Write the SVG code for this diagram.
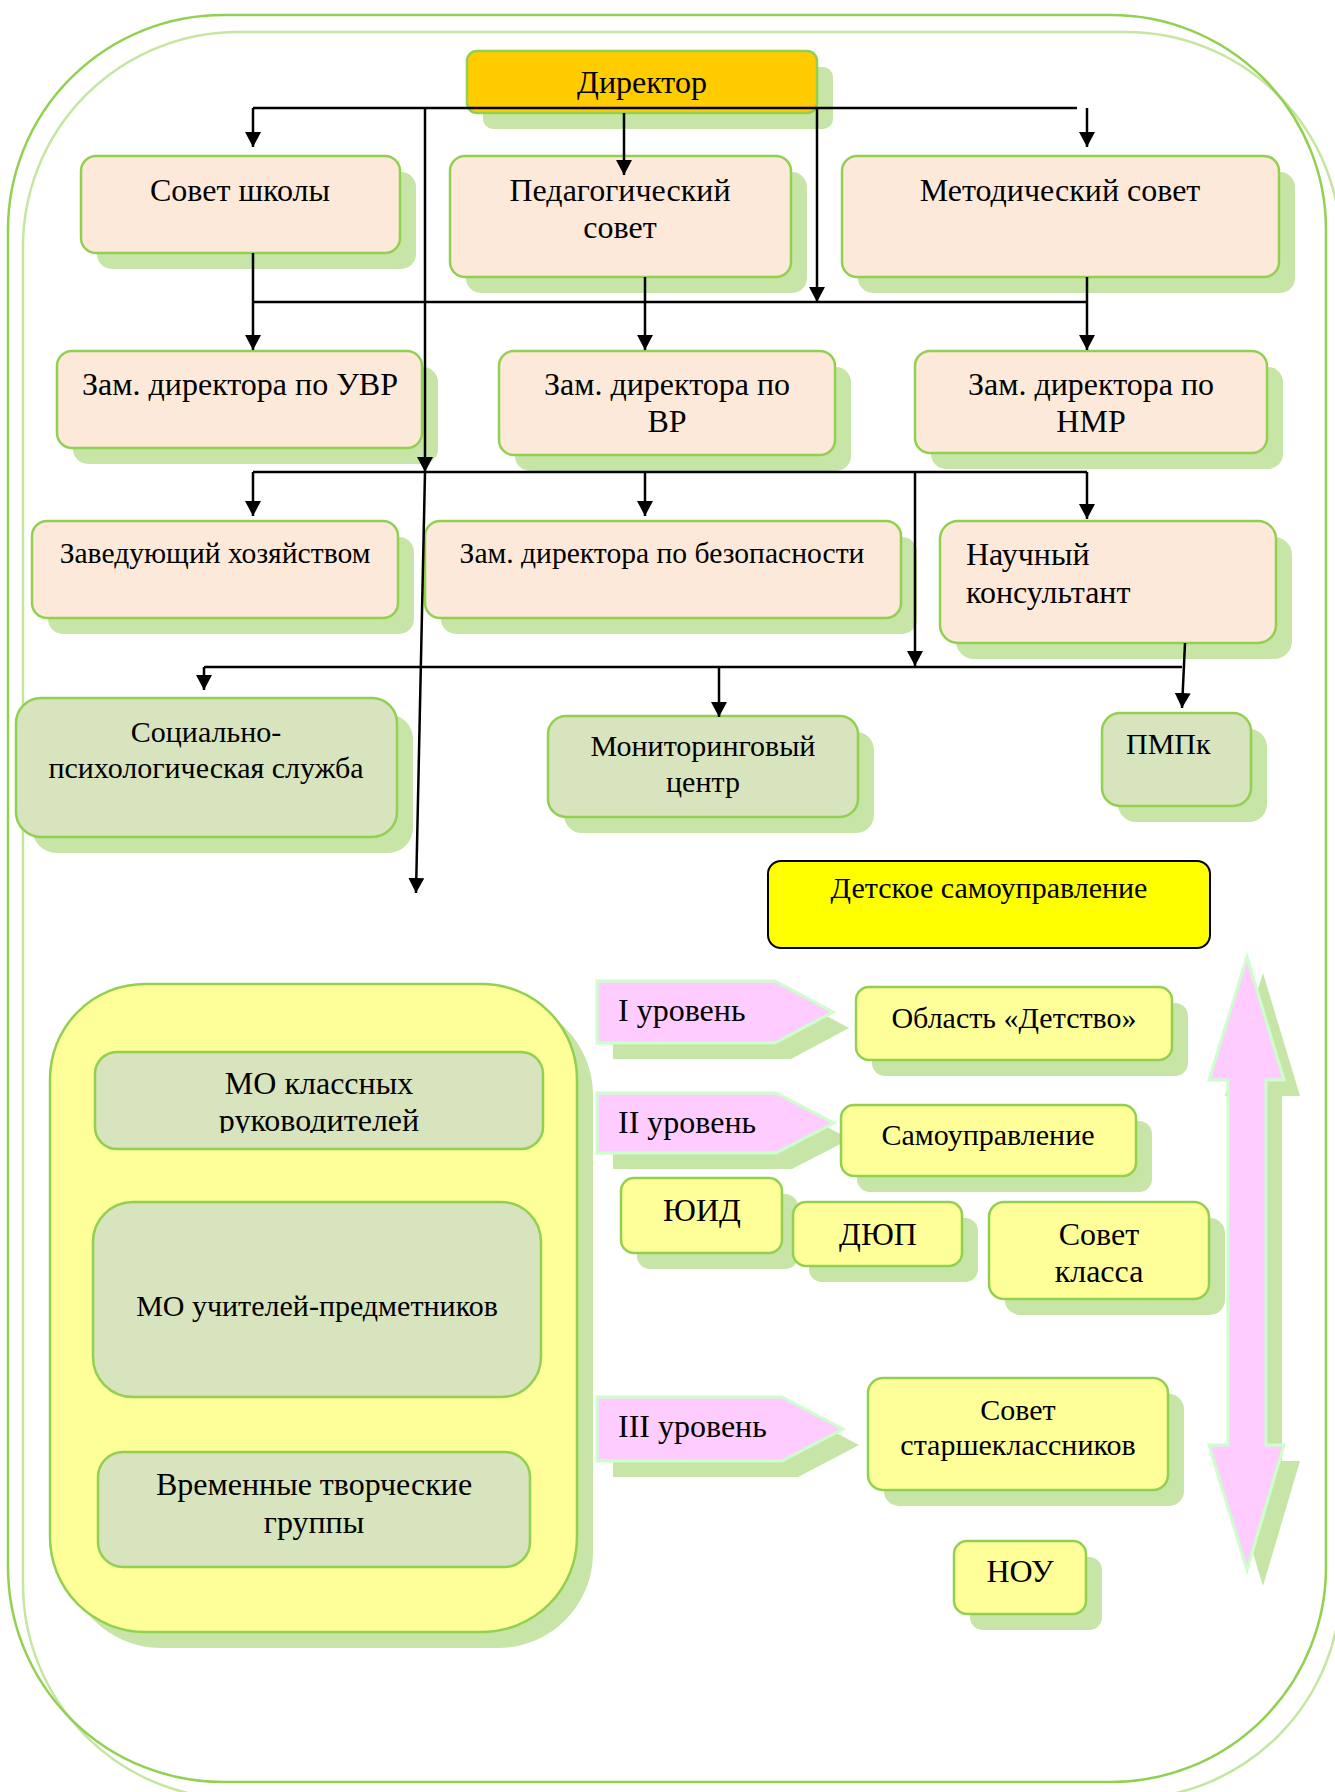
<svg xmlns="http://www.w3.org/2000/svg" width="1335" height="1792" viewBox="0 0 1335 1792">
<defs>
<marker id="ah" markerUnits="userSpaceOnUse" markerWidth="16" markerHeight="16" refX="15" refY="8" orient="auto"><path d="M0,0 L15,8 L0,16 z" fill="#000"/></marker>
<clipPath id="clipMo"><rect x="90" y="1040" width="460" height="93"/></clipPath>
</defs>
<style>
text{font-family:"Liberation Serif","Times New Roman",serif;fill:#000;}
.c{text-anchor:middle;}
.sh{fill:#c7e5a7;}
.pe{fill:#fde9d9;stroke:#92d050;stroke-width:2.5;}
.gr{fill:#d7e4bd;stroke:#92d050;stroke-width:2.5;}
.ye{fill:#ffff99;stroke:#92d050;stroke-width:2.5;}
.pk{fill:#ffccff;stroke:#ccffcc;stroke-width:3;}
.ln{fill:none;stroke:#000;stroke-width:2.5;}
.f32{font-size:32px;}
.f30{font-size:30px;}
.f295{font-size:29.6px;}
</style>
<rect width="1335" height="1792" fill="#fff"/>
<g id="frame">
<rect x="23" y="32" width="1318" height="1767" rx="215" ry="215" fill="none" stroke="#c4e6a0" stroke-width="2.5"/>
<rect x="8" y="15" width="1318" height="1767" rx="215" ry="215" fill="none" stroke="#92d050" stroke-width="2.5"/>
</g>

<g id="director">
<rect class="sh" x="483" y="67" width="350" height="62" rx="10"/>
<rect x="467" y="51" width="350" height="62" rx="10" fill="#ffcc00" stroke="#92d050" stroke-width="2.5"/>
<text class="c f32" x="642" y="93">Директор</text>
</g>
<g id="sovet-shkoly">
<rect class="sh" x="97" y="172" width="319" height="97" rx="15"/>
<rect class="pe" x="81" y="156" width="319" height="97" rx="15"/>
<text class="c f32" x="240" y="201">Совет школы</text>
</g>
<g id="ped-sovet">
<rect class="sh" x="466" y="172" width="341" height="121" rx="15"/>
<rect class="pe" x="450" y="156" width="341" height="121" rx="15"/>
<text class="c f32" x="620" y="201">Педагогический</text>
<text class="c f32" x="620" y="238">совет</text>
</g>
<g id="metod-sovet">
<rect class="sh" x="858" y="172" width="437" height="121" rx="15"/>
<rect class="pe" x="842" y="156" width="437" height="121" rx="15"/>
<text class="c f32" x="1060" y="201">Методический совет</text>
</g>
<g id="zam-uvr">
<rect class="sh" x="73" y="367" width="365" height="97" rx="15"/>
<rect class="pe" x="57" y="351" width="365" height="97" rx="15"/>
<text class="c f32" x="240" y="395">Зам. директора по УВР</text>
</g>
<g id="zam-vr">
<rect class="sh" x="515" y="367" width="336" height="104" rx="15"/>
<rect class="pe" x="499" y="351" width="336" height="104" rx="15"/>
<text class="c f32" x="667" y="395">Зам. директора по</text>
<text class="c f32" x="667" y="432">ВР</text>
</g>
<g id="zam-nmr">
<rect class="sh" x="931" y="367" width="352" height="102" rx="15"/>
<rect class="pe" x="915" y="351" width="352" height="102" rx="15"/>
<text class="c f32" x="1091" y="395">Зам. директора по</text>
<text class="c f32" x="1091" y="432">НМР</text>
</g>
<g id="zavhoz">
<rect class="sh" x="48" y="537" width="366" height="97" rx="15"/>
<rect class="pe" x="32" y="521" width="366" height="97" rx="15"/>
<text class="c f295" x="215" y="563">Заведующий хозяйством</text>
</g>
<g id="zam-bez">
<rect class="sh" x="441" y="537" width="476" height="97" rx="15"/>
<rect class="pe" x="425" y="521" width="476" height="97" rx="15"/>
<text class="c f295" x="662" y="563">Зам. директора по безопасности</text>
</g>
<g id="nauch">
<rect class="sh" x="956" y="537" width="336" height="122" rx="18"/>
<rect class="pe" x="940" y="521" width="336" height="122" rx="18"/>
<text class="f32" x="966" y="565">Научный</text>
<text class="f32" x="966" y="603">консультант</text>
</g>
<g id="socpsih">
<rect class="sh" x="32" y="714" width="381" height="139" rx="25"/>
<rect class="gr" x="16" y="698" width="381" height="139" rx="25"/>
<text class="c f30" x="206" y="742">Социально-</text>
<text class="c f30" x="206" y="778">психологическая служба</text>
</g>
<g id="monitor">
<rect class="sh" x="564" y="732" width="310" height="101" rx="18"/>
<rect class="gr" x="548" y="716" width="310" height="101" rx="18"/>
<text class="c f30" x="703" y="756">Мониторинговый</text>
<text class="c f30" x="703" y="792">центр</text>
</g>
<g id="pmpk">
<rect class="sh" x="1118" y="729" width="149" height="93" rx="18"/>
<rect class="gr" x="1102" y="713" width="149" height="93" rx="18"/>
<text class="f30" x="1126" y="754">ПМПк</text>
</g>
<g id="detskoe">
<rect x="768" y="861" width="442" height="87" rx="13" fill="#ffff00" stroke="#000" stroke-width="2"/>
<text class="c f30" x="989" y="898">Детское самоуправление</text>
</g>

<g id="mo-container">
<rect class="sh" x="66" y="1000" width="527" height="648" rx="95"/>
<rect class="ye" x="50" y="984" width="527" height="648" rx="95"/>
</g>
<g id="mo-klass">
<rect class="gr" x="95" y="1052" width="448" height="97" rx="22"/>
<text class="c f32" x="319" y="1094">МО классных</text>
<text class="c f32" x="319" y="1131" clip-path="url(#clipMo)">руководителей</text>
</g>
<g id="mo-uch">
<rect class="gr" x="93" y="1202" width="448" height="195" rx="40"/>
<text class="c f30" x="317" y="1316">МО учителей-предметников</text>
</g>
<g id="vrem">
<rect class="gr" x="98" y="1452" width="432" height="115" rx="25"/>
<text class="c f32" x="314" y="1495">Временные творческие</text>
<text class="c f32" x="314" y="1533">группы</text>
</g>

<g id="level1">
<polygon class="sh" points="613,997 791,997 849,1028 791,1059 613,1059"/>
<polygon class="pk" points="597,981 775,981 833,1012 775,1043 597,1043"/>
<text class="f32" x="618" y="1021">I уровень</text>
</g>
<g id="oblast">
<rect class="sh" x="872" y="1003" width="316" height="73" rx="13"/>
<rect class="ye" x="856" y="987" width="316" height="73" rx="13"/>
<text class="c f30" x="1014" y="1028">Область «Детство»</text>
</g>
<g id="level2">
<polygon class="sh" points="613,1109 792,1109 850,1139 792,1169 613,1169"/>
<polygon class="pk" points="597,1093 776,1093 834,1123 776,1153 597,1153"/>
<text class="f32" x="618" y="1133">II уровень</text>
</g>
<g id="samoupr">
<rect class="sh" x="857" y="1121" width="295" height="71" rx="13"/>
<rect class="ye" x="841" y="1105" width="295" height="71" rx="13"/>
<text class="c f30" x="988" y="1145">Самоуправление</text>
</g>
<g id="yuid">
<rect class="sh" x="637" y="1194" width="161" height="75" rx="13"/>
<rect class="ye" x="621" y="1178" width="161" height="75" rx="13"/>
<text class="c f32" x="702" y="1221">ЮИД</text>
</g>
<g id="dyup">
<rect class="sh" x="809" y="1218" width="169" height="64" rx="13"/>
<rect class="ye" x="793" y="1202" width="169" height="64" rx="13"/>
<text class="c f32" x="878" y="1245">ДЮП</text>
</g>
<g id="sovet-klassa">
<rect class="sh" x="1005" y="1218" width="220" height="97" rx="15"/>
<rect class="ye" x="989" y="1202" width="220" height="97" rx="15"/>
<text class="c f32" x="1099" y="1245">Совет</text>
<text class="c f32" x="1099" y="1282">класса</text>
</g>
<g id="level3">
<polygon class="sh" points="613,1413 798,1413 859,1445 798,1477 613,1477"/>
<polygon class="pk" points="597,1397 782,1397 843,1429 782,1461 597,1461"/>
<text class="f32" x="618" y="1437">III уровень</text>
</g>
<g id="sovet-starsh">
<rect class="sh" x="884" y="1394" width="300" height="112" rx="15"/>
<rect class="ye" x="868" y="1378" width="300" height="112" rx="15"/>
<text class="c f30" x="1018" y="1420">Совет</text>
<text class="c f30" x="1018" y="1455">старшеклассников</text>
</g>
<g id="nou">
<rect class="sh" x="970" y="1557" width="132" height="73" rx="13"/>
<rect class="ye" x="954" y="1541" width="132" height="73" rx="13"/>
<text class="c f32" x="1020" y="1582">НОУ</text>
</g>
<g id="double-arrow">
<polygon class="sh" points="1263,973 1300,1096 1282,1096 1282,1461 1300,1461 1263,1586 1225,1461 1244,1461 1244,1096 1225,1096"/>
<polygon class="pk" points="1247,957 1284,1080 1266,1080 1266,1445 1284,1445 1247,1570 1209,1445 1228,1445 1228,1080 1209,1080"/>
</g>

<g id="connectors">
<polyline class="ln" points="253,108 1077,108"/>
<line class="ln" x1="253" y1="108" x2="253" y2="147" marker-end="url(#ah)"/>
<line class="ln" x1="624" y1="113" x2="624" y2="175" marker-end="url(#ah)"/>
<line class="ln" x1="1087" y1="108" x2="1087" y2="147" marker-end="url(#ah)"/>
<line class="ln" x1="817" y1="108" x2="817" y2="302" marker-end="url(#ah)"/>
<line class="ln" x1="425" y1="108" x2="425" y2="472" marker-end="url(#ah)"/>
<line class="ln" x1="425" y1="472" x2="416" y2="893" marker-end="url(#ah)"/>
<polyline class="ln" points="253,302 1087,302"/>
<line class="ln" x1="253" y1="253" x2="253" y2="350" marker-end="url(#ah)"/>
<line class="ln" x1="645" y1="277" x2="645" y2="350" marker-end="url(#ah)"/>
<line class="ln" x1="1087" y1="277" x2="1087" y2="350" marker-end="url(#ah)"/>
<polyline class="ln" points="253,472 1087,472"/>
<line class="ln" x1="253" y1="472" x2="253" y2="516" marker-end="url(#ah)"/>
<line class="ln" x1="645" y1="472" x2="645" y2="516" marker-end="url(#ah)"/>
<line class="ln" x1="1087" y1="472" x2="1087" y2="519" marker-end="url(#ah)"/>
<line class="ln" x1="915" y1="472" x2="915" y2="666" marker-end="url(#ah)"/>
<polyline class="ln" points="204,667 1182,667"/>
<line class="ln" x1="204" y1="667" x2="204" y2="690" marker-end="url(#ah)"/>
<line class="ln" x1="719" y1="667" x2="719" y2="717" marker-end="url(#ah)"/>
<line class="ln" x1="1185" y1="643" x2="1182" y2="708" marker-end="url(#ah)"/>
</g>
</svg>
